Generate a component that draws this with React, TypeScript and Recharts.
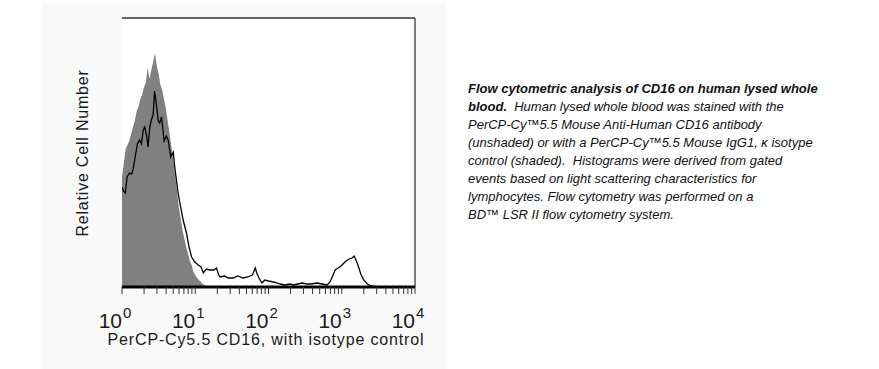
import React from "react";
import {
  ComposedChart,
  Area,
  Line,
  XAxis,
  YAxis,
  CartesianGrid,
  ReferenceLine,
} from "recharts";

// x values are log10 of the fluorescence (10^0 .. 10^4)
const isotypeLog = [
  0, 0.025, 0.05, 0.075, 0.1, 0.125, 0.15, 0.175, 0.2, 0.225, 0.25, 0.275,
  0.3, 0.325, 0.35, 0.375, 0.4, 0.425, 0.45, 0.475, 0.5, 0.525, 0.55, 0.575,
  0.6, 0.625, 0.65, 0.675, 0.7, 0.725, 0.75, 0.775, 0.8, 0.825, 0.85, 0.875,
  0.9, 0.925, 0.95, 0.975, 1, 1.025, 1.05, 1.075, 1.1, 1.125, 1.15, 1.175, 1.2,
];
const isotypeCount = [
  110, 124, 138, 142, 146, 153, 160, 166, 176, 180, 188, 192, 200, 204, 219,
  208, 217, 225, 234, 221, 213, 202, 197, 187, 178, 165, 153, 140, 128, 111,
  97, 80, 69, 57, 49, 40, 34, 26, 22, 15, 12, 9, 7, 5, 3, 2, 1, 0, 0,
];

const cd16Log = [
  0, 0.02, 0.045, 0.07, 0.1, 0.13, 0.15, 0.18, 0.21, 0.24, 0.265, 0.29, 0.31,
  0.335, 0.355, 0.38, 0.4, 0.425, 0.445, 0.47, 0.495, 0.515, 0.54, 0.575,
  0.605, 0.63, 0.665, 0.7, 0.72, 0.76, 0.79, 0.835, 0.88, 0.915, 0.95, 0.995,
  1.04, 1.08, 1.11, 1.15, 1.2, 1.25, 1.29, 1.32, 1.34, 1.4, 1.45, 1.52, 1.58,
  1.65, 1.72, 1.78, 1.82, 1.84, 1.87, 1.91, 1.95, 2, 2.07, 2.12, 2.16, 2.22,
  2.29, 2.34, 2.4, 2.46, 2.52, 2.58, 2.66, 2.73, 2.8, 2.84, 2.87, 2.91, 2.95,
  2.99, 3.03, 3.06, 3.1, 3.14, 3.17, 3.2, 3.23, 3.26, 3.3, 3.35, 3.4, 3.5, 4,
];
const cd16Count = [
  100, 96, 94, 110, 114, 113, 117, 130, 143, 147, 143, 157, 160, 152, 140,
  160, 167, 172, 196, 182, 166, 164, 170, 146, 151, 147, 130, 135, 120, 97,
  84, 67, 54, 40, 30, 25, 22, 20, 14, 18, 17, 17, 19, 12, 10, 11, 9, 9, 11, 9,
  10, 12, 19, 14, 9, 4, 7, 6, 5, 4, 3, 2, 3, 2, 3, 4, 3, 3, 4, 3, 2, 5, 10, 17,
  19, 21, 24, 26, 28, 29, 31, 26, 20, 13, 7, 3, 1, 0, 0,
];

const decades = [0, 1, 2, 3, 4];
const minorSteps = [2, 3, 4, 5, 6, 7, 8, 9];

const isotypeData = isotypeLog.map((x, i) => ({ x, count: isotypeCount[i] }));
const cd16Data = cd16Log.map((x, i) => ({ x, count: cd16Count[i] }));

const axisTicks = [
  ...decades,
  ...decades
    .slice(0, -1)
    .flatMap((d) => minorSteps.map((m) => d + Math.log10(m))),
].sort((a, b) => a - b);

const FONT = "'Liberation Sans', Arial, sans-serif";

function DecadeTick(props: any) {
  const { x, y, payload } = props;
  const v = payload.value;
  if (!Number.isInteger(v)) return <g />;
  return (
    <g>
      <text
        x={x}
        y={y + 32}
        textAnchor="end"
        fontFamily={FONT}
        fontSize={21}
        fill="#1a1a1a"
      >
        10
      </text>
      <text
        x={x + 1}
        y={y + 22}
        textAnchor="start"
        fontFamily={FONT}
        fontSize={15}
        fill="#1a1a1a"
      >
        {v}
      </text>
    </g>
  );
}

export default function App() {
  return (
    <div
      style={{
        position: "absolute",
        left: 0,
        top: 0,
        width: 879,
        height: 369,
        background: "#ffffff",
        overflow: "hidden",
      }}
    >
      {/* light panel behind the histogram */}
      <div
        style={{
          position: "absolute",
          left: 42,
          top: 3,
          width: 404,
          height: 366,
          background: "#f9f9f9",
        }}
      />

      <div style={{ position: "absolute", left: 0, top: 0 }}>
        <ComposedChart
          width={446}
          height={369}
          margin={{ top: 18, right: 31, bottom: 32, left: 122 }}
        >
          <CartesianGrid
            fill="#ffffff"
            horizontal={false}
            vertical={false}
            stroke="none"
          />
          <XAxis
            type="number"
            dataKey="x"
            domain={[0, 4]}
            ticks={axisTicks}
            interval={0}
            allowDataOverflow
            height={50}
            axisLine={{ stroke: "#000", strokeWidth: 3 }}
            tickLine={{ stroke: "#333", strokeWidth: 1 }}
            tickSize={7}
            tick={<DecadeTick />}
          />
          <YAxis
            type="number"
            domain={[0, 269]}
            allowDataOverflow
            width={0}
            tick={false}
            tickLine={false}
            axisLine={{ stroke: "#000", strokeWidth: 3 }}
          />
          <ReferenceLine y={269} stroke="#666" strokeWidth={2} />
          <ReferenceLine x={4} stroke="#000" strokeWidth={1} />
          <Area
            data={isotypeData}
            dataKey="count"
            type="linear"
            stroke="none"
            fill="#808080"
            fillOpacity={1}
            isAnimationActive={false}
          />
          <Line
            data={cd16Data}
            dataKey="count"
            type="linear"
            stroke="#000"
            strokeWidth={1.3}
            dot={false}
            isAnimationActive={false}
          />
        </ComposedChart>
      </div>

      <svg
        width={446}
        height={369}
        style={{ position: "absolute", left: 0, top: 0, pointerEvents: "none" }}
      >
        <text
          x={266}
          y={345}
          textAnchor="middle"
          fontFamily={FONT}
          fontSize={16}
          letterSpacing={0.85}
          fill="#1a1a1a"
        >
          PerCP-Cy5.5 CD16, with isotype control
        </text>
        <text
          transform="translate(88 153) rotate(-90)"
          textAnchor="middle"
          fontFamily={FONT}
          fontSize={16}
          letterSpacing={0.8}
          fill="#1a1a1a"
        >
          Relative Cell Number
        </text>
      </svg>

      <div
        style={{
          position: "absolute",
          left: 468,
          top: 80,
          fontFamily: FONT,
          fontSize: 13,
          lineHeight: "18px",
          fontStyle: "italic",
          color: "#111",
          whiteSpace: "nowrap",
        }}
      >
        <b>Flow cytometric analysis of CD16 on human lysed whole</b>
        <br />
        <b>blood.</b>&nbsp; Human lysed whole blood was stained with the
        <br />
        PerCP-Cy™5.5 Mouse Anti-Human CD16 antibody
        <br />
        (unshaded) or with a PerCP-Cy™5.5 Mouse IgG1, κ isotype
        <br />
        control (shaded).&nbsp; Histograms were derived from gated
        <br />
        events based on light scattering characteristics for
        <br />
        lymphocytes. Flow cytometry was performed on a
        <br />
        BD™ LSR II flow cytometry system.
      </div>
    </div>
  );
}
